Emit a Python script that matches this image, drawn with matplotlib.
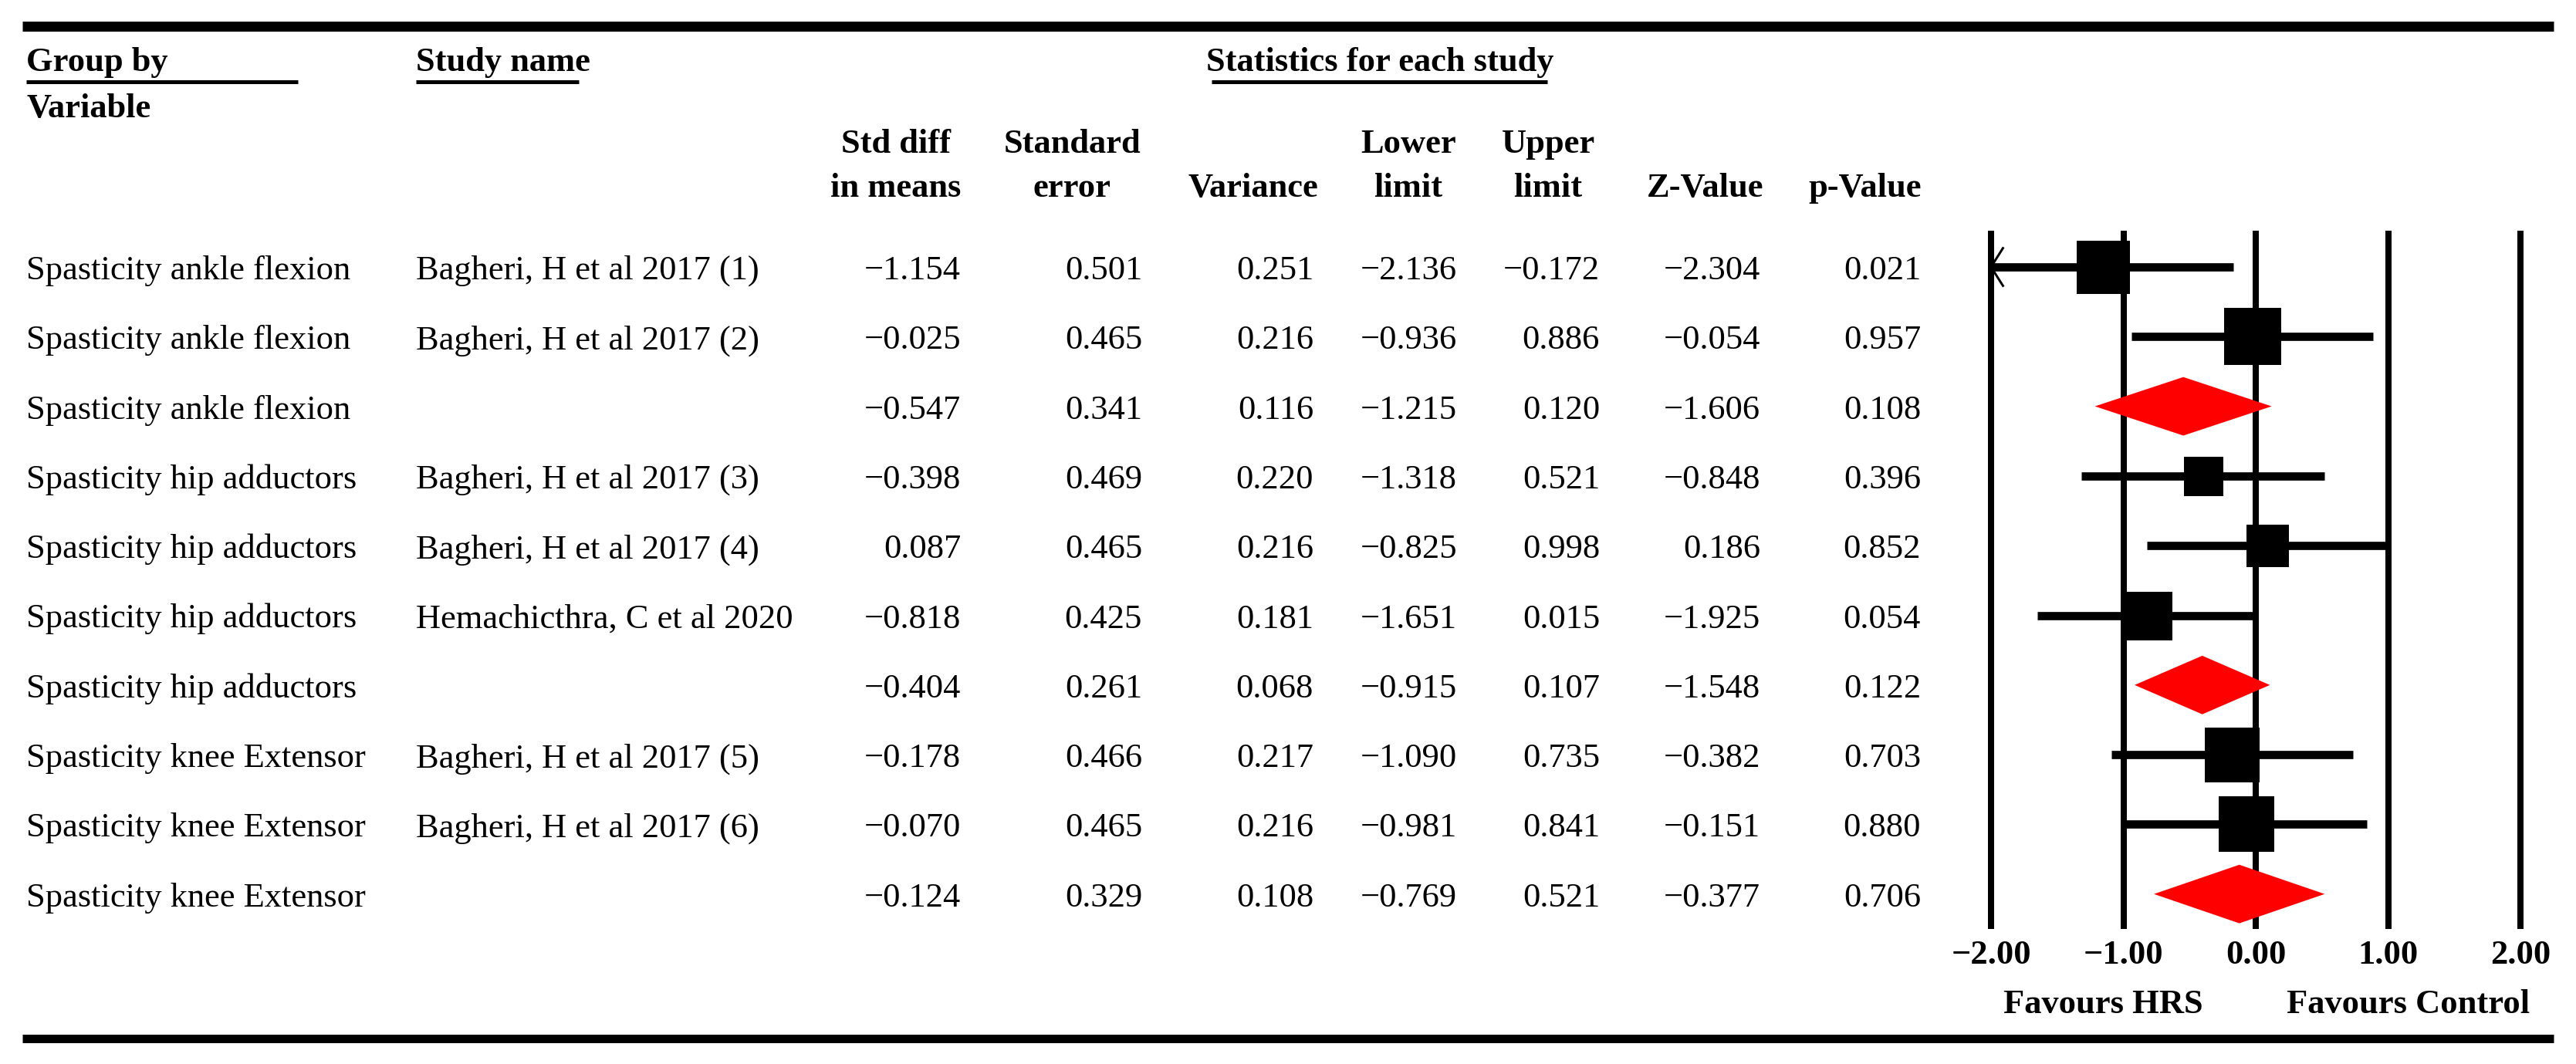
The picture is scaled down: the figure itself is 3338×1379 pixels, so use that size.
import matplotlib
matplotlib.use("Agg")
import matplotlib.pyplot as plt

plt.rcParams['font.family'] = ['Liberation Serif', 'DejaVu Serif']

# table data, one entry per row
groups = ['Spasticity ankle flexion'] * 3 + ['Spasticity hip adductors'] * 4 + ['Spasticity knee Extensor'] * 3
studies = ['Bagheri, H et al 2017 (1)', 'Bagheri, H et al 2017 (2)', '',
           'Bagheri, H et al 2017 (3)', 'Bagheri, H et al 2017 (4)', 'Hemachicthra, C et al 2020', '',
           'Bagheri, H et al 2017 (5)', 'Bagheri, H et al 2017 (6)', '']
smd = [-1.154, -0.025, -0.547, -0.398, 0.087, -0.818, -0.404, -0.178, -0.070, -0.124]
se = [0.501, 0.465, 0.341, 0.469, 0.465, 0.425, 0.261, 0.466, 0.465, 0.329]
variance = [0.251, 0.216, 0.116, 0.220, 0.216, 0.181, 0.068, 0.217, 0.216, 0.108]
lower = [-2.136, -0.936, -1.215, -1.318, -0.825, -1.651, -0.915, -1.090, -0.981, -0.769]
upper = [-0.172, 0.886, 0.120, 0.521, 0.998, 0.015, 0.107, 0.735, 0.841, 0.521]
zval = [-2.304, -0.054, -1.606, -0.848, 0.186, -1.925, -1.548, -0.382, -0.151, -0.377]
pval = [0.021, 0.957, 0.108, 0.396, 0.852, 0.054, 0.122, 0.703, 0.880, 0.706]
is_summary = [False, False, True, False, False, False, True, False, False, True]

ticks = [-2, -1, 0, 1, 2]
tick_labels = ['\u22122.00', '\u22121.00', '0.00', '1.00', '2.00']
head1 = ['Std diff', 'Standard', '', 'Lower', 'Upper', '', '']
head2 = ['in means', 'error', 'Variance', 'limit', 'limit', 'Z-Value', 'p-Value']

# styling (pixel layout of the 3338 x 1379 canvas)
W, H, DPI = 3338, 1379, 200
box_px = [69, 74, 0, 51, 55, 63, 0, 71, 72, 0]
row_y0, row_dy = 346, 90.3
col_right = [1245, 1480, 1702, 1888, 2073, 2281, 2489]
col_head = [1161, 1389, 1624, 1825, 2006, 2210, 2417]
px = 72.0 / DPI


def fmt(v):
    return f'{v:.3f}'.replace('-', '\u2212')


fig = plt.figure(figsize=(W / DPI, H / DPI), dpi=DPI)
ax = fig.add_axes([0, 0, 1, 1])
ax.set_xlim(0, W)
ax.set_ylim(H, 0)
ax.axis('off')

# rules and underlines
ax.plot([29, 3309], [34, 34], color='black', lw=13 * px, solid_capstyle='butt')
ax.plot([29, 3309], [1346, 1346], color='black', lw=11 * px, solid_capstyle='butt')
for x0, x1 in [(34, 386), (539, 750), (1570, 2005)]:
    ax.plot([x0, x1], [105.5, 105.5], color='black', lw=5 * px, solid_capstyle='butt')

hfs, bfs = 16, 16
ax.text(34, 92, 'Group by', fontsize=hfs, fontweight='bold', va='baseline')
ax.text(34, 152, 'Variable', fontsize=hfs, fontweight='bold', va='baseline')
ax.text(539, 92, 'Study name', fontsize=hfs, fontweight='bold', va='baseline')
ax.text(1788, 92, 'Statistics for each study', fontsize=hfs, fontweight='bold', va='baseline', ha='center')
for cx, h1, h2 in zip(col_head, head1, head2):
    if h1:
        ax.text(cx, 198, h1, fontsize=hfs, fontweight='bold', va='baseline', ha='center')
    ax.text(cx, 255, h2, fontsize=hfs, fontweight='bold', va='baseline', ha='center')

columns = [smd, se, variance, lower, upper, zval, pval]
for i in range(len(groups)):
    yb = row_y0 + row_dy * i + 16
    ax.text(34, yb, groups[i], fontsize=bfs, va='baseline')
    ax.text(539, yb, studies[i], fontsize=bfs, va='baseline')
    for xr, col in zip(col_right, columns):
        ax.text(xr, yb, fmt(col[i]), fontsize=bfs, va='baseline', ha='right')

# forest plot axes: x=-2 at 2580 px, x=0 at 2923 px
unit = (2923 - 2580) / 2.0
xl, xr = -2.2, 2.2
top_row, bot_row = -0.52, 9.5
left = (2923 + xl * unit) / W
width = (xr - xl) * unit / W
ytop = row_y0 + row_dy * top_row
ybot = row_y0 + row_dy * bot_row
fax = fig.add_axes([left, 1 - ybot / H, width, (ybot - ytop) / H])
fax.set_xlim(xl, xr)
fax.set_ylim(bot_row, top_row)
for s in fax.spines.values():
    s.set_visible(False)
fax.set_yticks([])
fax.set_xticks(ticks)
fax.set_xticklabels(tick_labels, fontsize=16, fontweight='bold')
fax.tick_params(axis='x', length=0, pad=5)
fax.vlines(ticks, top_row, bot_row, color='black', lw=8 * px)

for i in range(len(smd)):
    if is_summary[i]:
        fax.fill([lower[i], smd[i], upper[i], smd[i]], [i, i - 0.42, i, i + 0.42],
                 color='#ff0000', lw=0, zorder=3)
    else:
        lo = max(lower[i], -2)
        fax.plot([lo, upper[i]], [i, i], color='black', lw=10.7 * px,
                 solid_capstyle='butt', zorder=3)
        fax.plot([smd[i]], [i], marker='s', color='black', markersize=box_px[i] * px,
                 markeredgewidth=0, zorder=4)
        if lower[i] < -2:
            fax.plot([-1.91, -2, -1.91], [i - 0.27, i, i + 0.27], color='black',
                     lw=3 * px, zorder=4)

fax.text(-1.15, 10.59, 'Favours HRS', fontsize=16, fontweight='bold',
         ha='center', va='center', clip_on=False)
fax.text(1.15, 10.59, 'Favours Control', fontsize=16, fontweight='bold',
         ha='center', va='center', clip_on=False)

fig.savefig('out.png', dpi=DPI)
